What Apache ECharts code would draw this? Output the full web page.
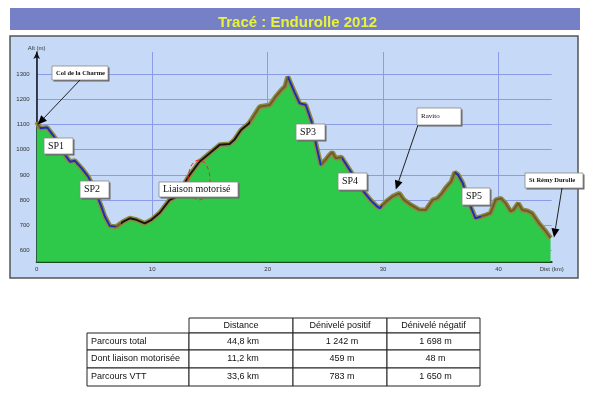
<!DOCTYPE html>
<html>
<head>
<meta charset="utf-8">
<script src="https://cdn.jsdelivr.net/npm/echarts@6/dist/echarts.min.js"></script>
<style>
  html, body { margin: 0; padding: 0; background: #fff; }
  #chart { width: 595px; height: 397px; }
</style>
</head>
<body>
<div id="chart"></div>
<script>
// profil altimétrique (km, m)
var distKm = [0, 0.3, 0.9, 1.4, 2.0, 2.45, 2.9, 3.3, 3.9, 4.46, 4.9, 5.3, 5.6, 5.9, 6.34, 6.9,
  7.5, 8.06, 8.64, 9.36, 9.94, 10.66, 11.5, 11.95, 12.6, 13.25, 14.1, 14.98, 15.84, 16.7, 17.1,
  17.7, 18.4, 19.3, 20.2, 20.7, 21.2, 21.5, 21.75, 22.3, 22.76, 23.3, 23.8, 24.2, 24.6, 25.0,
  25.35, 25.6, 25.9, 26.4, 27.1, 28.2, 28.95, 29.5, 29.7, 30.25, 30.8, 31.4, 31.8, 32.4, 33.1,
  33.7, 34.3, 34.7, 35.1, 35.4, 35.9, 36.2, 36.5, 36.9, 37.45, 38.0, 38.5, 38.9, 39.3, 39.75,
  40.2, 40.6, 41.05, 41.3, 41.7, 42.05, 42.5, 42.9, 43.5, 44.1, 44.5];
var altM = [1110, 1085, 1088, 1058, 1019, 979, 952, 956, 926, 893, 853, 809, 774, 735, 697, 695,
  715, 728, 722, 708, 722, 750, 800, 810, 852, 900, 952, 986, 1019, 1022, 1038,
  1078, 1105, 1170, 1177, 1210, 1237, 1250, 1289, 1230, 1184, 1177, 1111, 1019, 939, 959,
  979, 990, 966, 970, 920, 840, 798, 774, 768, 794, 814, 827, 801, 781, 762,
  761, 801, 807, 827, 847, 873, 910, 900, 867, 788, 728, 735, 741, 748, 801,
  807, 788, 755, 761, 788, 761, 757, 748, 708, 675, 650];

var yTicks = [600, 700, 800, 900, 1000, 1100, 1200, 1300];
var xTicks = [0, 10, 20, 30, 40];

// tronçons : début (km) et type
var segStart = [0, 0.3, 6.9, 7.3, 18.5, 21.75, 24.6, 26.4, 29.9, 36.2, 38.5];
var segType = ['route', 'sp', 'route', 'liaison', 'route', 'sp', 'route', 'sp', 'route', 'sp', 'route'];

// annotations
var annoText = ['Col de la Charme', 'SP1', 'SP2', 'Liaison motorisé', 'SP3', 'SP4', 'Ravito', 'SP5', 'St Rémy Durolle'];
var annoTip = [[0.1, 1100], null, null, null, null, null, [31.1, 842], null, [44.8, 652]];

// tableau
var tableHead = ['Distance', 'Dénivelé positif', 'Dénivelé négatif'];
var rowNames = ['Parcours total', 'Dont liaison motorisée', 'Parcours VTT'];
var distances = ['44,8 km', '11,2 km', '33,6 km'];
var denivPos = ['1 242 m', '459 m', '783 m'];
var denivNeg = ['1 698 m', '48 m', '1 650 m'];

var segColor = { sp: '#1c2fb4', liaison: '#151515', route: '#6e5a2c' };

var profile = distKm.map(function (d, i) { return [d, altM[i]]; });

var pieces = segStart.map(function (s, i) {
  var p = { gte: s, color: segColor[segType[i]] };
  if (i < segStart.length - 1) p.lt = segStart[i + 1];
  return p;
});

var myChart = echarts.init(document.getElementById('chart'), null, { renderer: 'canvas' });

var font = 'Liberation Sans, Arial, sans-serif';
var serif = 'Liberation Serif, Times New Roman, serif';

var option = {
  animation: false,
  backgroundColor: '#fff',
  title: {
    text: 'Tracé : Endurolle 2012',
    left: 'center',
    top: 10,
    textStyle: { color: '#e8f23c', fontSize: 15, fontWeight: 'bold', fontFamily: font }
  },
  grid: { left: 36.7, right: 43.3, top: 52, bottom: 135.3 },
  xAxis: {
    type: 'value',
    min: 0,
    max: 44.6,
    axisLine: { show: true, lineStyle: { color: '#1b4a1b', width: 2 } },
    axisTick: { show: false, customValues: xTicks },
    axisLabel: {
      customValues: xTicks.concat([44.6]),
      fontSize: 6, color: '#333', fontFamily: font, margin: 5,
      formatter: function (v) { return v > 44 ? 'Dist (km)' : String(v); }
    },
    splitLine: { show: true, lineStyle: { color: '#8c9ce4', width: 1 } }
  },
  yAxis: {
    type: 'value',
    min: 556,
    max: 1387,
    name: 'Alt (m)',
    nameGap: 1,
    nameTextStyle: { fontSize: 6, color: '#333', fontFamily: font, align: 'center' },
    axisLine: { show: true, symbol: ['none', 'arrow'], symbolSize: [5, 7], lineStyle: { color: '#111', width: 1.5 } },
    axisTick: { show: false, customValues: yTicks },
    axisLabel: {
      customValues: yTicks, fontSize: 6, color: '#333', fontFamily: font, margin: 7,
      formatter: function (v) { return String(v); }
    },
    splitLine: { show: true, lineStyle: { color: '#8c9ce4', width: 1 } }
  },
  visualMap: {
    show: false,
    type: 'piecewise',
    dimension: 0,
    seriesIndex: 1,
    pieces: pieces
  },
  series: [
    {
      type: 'line',
      data: profile,
      symbol: 'none',
      z: 2,
      lineStyle: { color: '#8d8a3e', width: 5 },
      areaStyle: { color: '#2ec84a', opacity: 1 }
    },
    {
      type: 'line',
      data: profile,
      symbol: 'none',
      z: 3,
      lineStyle: { width: 2 }
    }
  ]
};

myChart.setOption(option);

// cadres, annotations et tableau
var boxes = [
  [52, 66, 56, 14, 6.5, 'bold', [80, 80]],
  [44, 138, 29, 16, 10, 'normal', null],
  [80, 181, 29, 17, 10, 'normal', null],
  [159, 182, 79, 15, 10, 'normal', null],
  [296, 124, 29, 16, 10, 'normal', null],
  [338, 173, 29, 17, 10, 'normal', null],
  [417, 108, 44, 17, 7, 'normal', [418, 125]],
  [462, 188, 28, 17, 10, 'normal', null],
  [525, 173, 58, 15, 6.5, 'bold', [562, 188]]
];

var g = [];
g.push({ type: 'rect', z: -10, shape: { x: 10, y: 36, width: 568, height: 242 },
  style: { fill: '#c6d9f6', stroke: '#555', lineWidth: 1.5 } });
g.push({ type: 'rect', z: -10, shape: { x: 10, y: 8, width: 570, height: 22 },
  style: { fill: '#7680c6' } });
g.push({ type: 'ellipse', z: 5, shape: { cx: 199, cy: 180, rx: 11, ry: 20 },
  style: { fill: 'none', stroke: '#ff2020', lineWidth: 1, lineDash: [4, 3] } });

boxes.forEach(function (b, i) {
  g.push({ type: 'rect', z: 10, shape: { x: b[0] + 1.5, y: b[1] + 1.5, width: b[2], height: b[3] },
    style: { fill: '#666' } });
  g.push({ type: 'rect', z: 11, shape: { x: b[0], y: b[1], width: b[2], height: b[3] },
    style: { fill: '#fff', stroke: '#888', lineWidth: 0.8 } });
  g.push({ type: 'text', z: 12, x: b[0] + 4, y: b[1] + b[3] / 2,
    style: { text: annoText[i], fill: '#111', fontSize: b[4], fontWeight: b[5], fontFamily: serif,
      textAlign: 'left', textVerticalAlign: 'middle' } });
  if (annoTip[i] && b[6]) {
    var tip = myChart.convertToPixel({ gridIndex: 0 }, annoTip[i]);
    var sx = b[6][0], sy = b[6][1];
    var ang = Math.atan2(tip[1] - sy, tip[0] - sx);
    var len = 9, wid = 4;
    var bx = tip[0] - len * Math.cos(ang), by = tip[1] - len * Math.sin(ang);
    g.push({ type: 'line', z: 12, shape: { x1: sx, y1: sy, x2: bx, y2: by },
      style: { stroke: '#222', lineWidth: 1 } });
    g.push({ type: 'polygon', z: 12, shape: { points: [
      [tip[0], tip[1]],
      [bx + wid * Math.sin(ang), by - wid * Math.cos(ang)],
      [bx - wid * Math.sin(ang), by + wid * Math.cos(ang)]
    ] }, style: { fill: '#000' } });
  }
});

var colX = [87, 189, 293, 387, 480];
var rowY = [318, 333, 350, 368, 386];
var tstyle = { fill: '#111', fontSize: 9, fontFamily: font, textVerticalAlign: 'middle' };
for (var c = 1; c < 4; c++) {
  g.push({ type: 'rect', shape: { x: colX[c], y: rowY[0], width: colX[c + 1] - colX[c], height: rowY[1] - rowY[0] },
    style: { fill: '#fff', stroke: '#222', lineWidth: 1 } });
  g.push({ type: 'text', x: (colX[c] + colX[c + 1]) / 2, y: (rowY[0] + rowY[1]) / 2,
    style: Object.assign({ text: tableHead[c - 1], textAlign: 'center' }, tstyle) });
}
var cols = [rowNames, distances, denivPos, denivNeg];
for (var r = 0; r < 3; r++) {
  for (var k = 0; k < 4; k++) {
    var y0 = rowY[r + 1], y1 = rowY[r + 2];
    g.push({ type: 'rect', shape: { x: colX[k], y: y0, width: colX[k + 1] - colX[k], height: y1 - y0 },
      style: { fill: '#fff', stroke: '#222', lineWidth: 1 } });
    g.push({ type: 'text', x: k === 0 ? colX[0] + 4 : (colX[k] + colX[k + 1]) / 2 + 2, y: (y0 + y1) / 2,
      style: Object.assign({ text: cols[k][r], textAlign: k === 0 ? 'left' : 'center' }, tstyle) });
  }
}

myChart.setOption({ graphic: g });
window.onresize = myChart.resize;
</script>
</body>
</html>
